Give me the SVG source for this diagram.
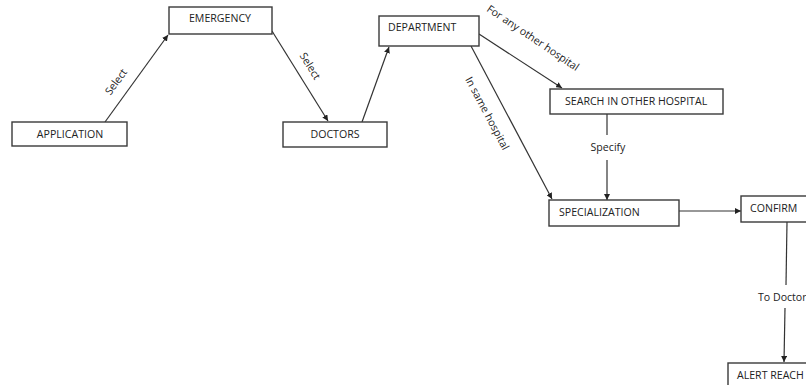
<svg xmlns="http://www.w3.org/2000/svg" width="806" height="385" viewBox="0 0 806 385">
<style>
.box{fill:#fff;stroke:#3a3a3a;stroke-width:1.4}
.t{font-family:"Open Sans","Liberation Sans",sans-serif;font-size:10.6px;fill:#222}
.c{stroke:#333;stroke-width:1.2;fill:none}
.a{stroke:#333;stroke-width:1.2;fill:none;marker-end:url(#ah)}
</style>
<defs>
<marker id="ah" viewBox="0 0 10 10" refX="10" refY="5" markerWidth="6" markerHeight="6" markerUnits="userSpaceOnUse" orient="auto">
<path d="M0,0 L10,5 L0,10 z" fill="#222"/>
</marker>
</defs>
<rect width="806" height="385" fill="#fff"/>
<g id="connectors">
<line class="a" x1="105" y1="122" x2="168" y2="35"/>
<line class="a" x1="272" y1="31" x2="328" y2="121"/>
<line class="a" x1="362" y1="122" x2="389" y2="47"/>
<line class="a" x1="479" y1="34" x2="562" y2="88"/>
<line class="a" x1="471" y1="46" x2="552" y2="199"/>
<line class="c" x1="607" y1="114" x2="607" y2="135"/>
<line class="a" x1="607" y1="160" x2="607" y2="200"/>
<line class="a" x1="679" y1="211" x2="741" y2="211"/>
<line class="c" x1="787" y1="222" x2="786" y2="285"/>
<line class="a" x1="785" y1="308" x2="784" y2="362"/>
<text class="t" transform="translate(119,84) rotate(-54)" text-anchor="middle">Select</text>
<text class="t" transform="translate(307,68) rotate(58)" text-anchor="middle">Select</text>
<text class="t" transform="translate(531,41) rotate(34)" text-anchor="middle">For any other hospital</text>
<text class="t" transform="translate(484,115) rotate(62)" text-anchor="middle">In same hospital</text>
<text class="t" x="608" y="151" text-anchor="middle">Specify</text>
<text class="t" x="758" y="301">To Doctor</text>
</g>
<g id="application"><rect class="box" x="12" y="122" width="115" height="24"/><text class="t" x="70" y="138" text-anchor="middle">APPLICATION</text></g>
<g id="emergency"><rect class="box" x="169" y="7" width="103" height="27"/><text class="t" x="220" y="22" text-anchor="middle">EMERGENCY</text></g>
<g id="doctors"><rect class="box" x="283" y="122" width="104" height="25"/><text class="t" x="335" y="138" text-anchor="middle">DOCTORS</text></g>
<g id="department"><rect class="box" x="379" y="16" width="100" height="30"/><text class="t" x="388" y="31">DEPARTMENT</text></g>
<g id="search"><rect class="box" x="550" y="89" width="173" height="25"/><text class="t" x="565" y="105">SEARCH IN OTHER HOSPITAL</text></g>
<g id="specialization"><rect class="box" x="549" y="200" width="130" height="26"/><text class="t" x="559" y="216">SPECIALIZATION</text></g>
<g id="confirm"><rect class="box" x="741" y="196" width="70" height="26"/><text class="t" x="750" y="212">CONFIRM</text></g>
<g id="alert"><rect class="box" x="728" y="363" width="90" height="30"/><text class="t" x="737" y="379">ALERT REACH</text></g>
</svg>
